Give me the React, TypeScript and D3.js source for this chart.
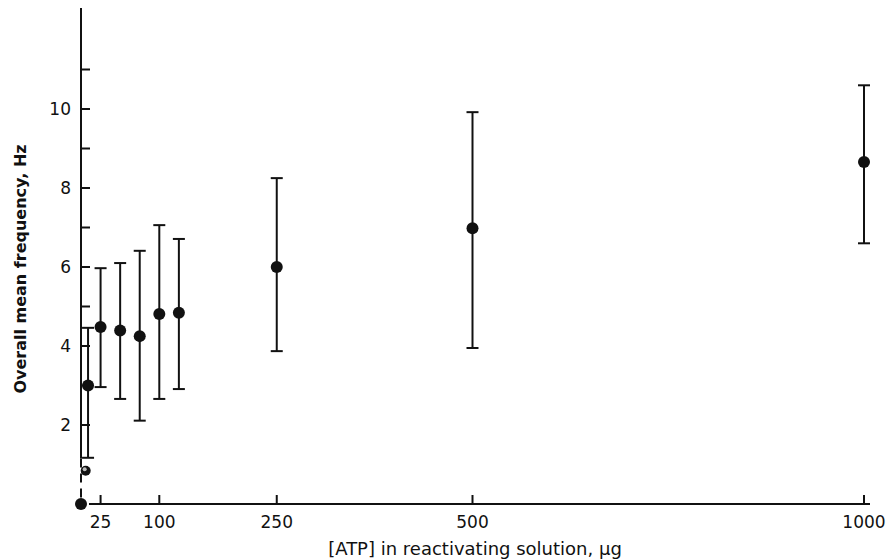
import React from 'react';
import * as d3 from 'd3';

// ATP concentration (µg) and overall mean beat frequency (Hz)
const atp = [0, 6, 9, 25, 50, 75, 100, 125, 250, 500, 1000];
const meanHz = [0, 0.84, 3.0, 4.48, 4.39, 4.25, 4.81, 4.84, 6.0, 6.98, 8.66];
const lowHz = [null, null, 1.17, 2.96, 2.66, 2.11, 2.66, 2.91, 3.87, 3.95, 6.6];
const highHz = [null, null, 4.46, 5.97, 6.1, 6.41, 7.06, 6.71, 8.25, 9.92, 10.6];

const xTicks = [25, 100, 250, 500, 1000];
const yLabelTicks = [2, 4, 6, 8, 10];
const yMinorTicks = [3, 5, 7, 9, 11];

const W = 891;
const H = 560;

export default function App() {
  const x = d3.scaleLinear().domain([0, 1000]).range([81, 864]);
  const y = d3.scaleLinear().domain([0, 10]).range([504, 109]);

  const ink = '#111';
  const font = '"DejaVu Sans", "Liberation Sans", sans-serif';
  const axisX = x(0);
  const axisY = y(0);
  const dashFrom = y(1.15);

  return (
    <svg width={W} height={H} style={{ position: 'absolute', left: 0, top: 0, background: '#fff' }}>
      {/* y axis: solid above, dashed near the origin */}
      <line x1={axisX} x2={axisX} y1={8} y2={dashFrom} stroke={ink} strokeWidth={2} />
      <line x1={axisX} x2={axisX} y1={dashFrom} y2={axisY} stroke={ink} strokeWidth={2} strokeDasharray="9,6" />
      {/* x axis */}
      <line x1={axisX + 8} x2={870} y1={axisY} y2={axisY} stroke={ink} strokeWidth={2} />

      {[...yLabelTicks, ...yMinorTicks].map(v => (
        <line key={'yt' + v} x1={axisX} x2={axisX + 9} y1={y(v)} y2={y(v)} stroke={ink} strokeWidth={2} />
      ))}
      {yLabelTicks.map(v => (
        <text key={'yl' + v} x={71} y={y(v)} dy="0.36em" textAnchor="end" fontFamily={font} fontSize={17} fill={ink}>
          {v}
        </text>
      ))}

      {xTicks.map(v => (
        <g key={'xt' + v}>
          <line x1={x(v)} x2={x(v)} y1={axisY} y2={axisY - 9} stroke={ink} strokeWidth={2} />
          <text x={x(v)} y={528} textAnchor="middle" fontFamily={font} fontSize={17} fill={ink}>
            {v}
          </text>
        </g>
      ))}

      {/* error bars */}
      {atp.map((a, i) => {
        const lo = lowHz[i];
        const hi = highHz[i];
        if (lo == null || hi == null) return null;
        const cx = x(a);
        return (
          <g key={'eb' + i} stroke={ink} strokeWidth={2}>
            <line x1={cx} x2={cx} y1={y(lo)} y2={y(hi)} />
            <line x1={cx - 6} x2={cx + 6} y1={y(lo)} y2={y(lo)} />
            <line x1={cx - 6} x2={cx + 6} y1={y(hi)} y2={y(hi)} />
          </g>
        );
      })}

      {/* means */}
      {atp.map((a, i) => (
        <circle key={'pt' + i} cx={x(a)} cy={y(meanHz[i])} r={i === 1 ? 5 : 6} fill={ink} />
      ))}
      <circle cx={x(atp[1]) - 1} cy={y(meanHz[1]) - 1.5} r={2} fill="#bbb" />

      <text
        transform={`translate(26,269) rotate(-90)`}
        textAnchor="middle"
        fontFamily={font}
        fontSize={16}
        fontWeight={700}
        fill={ink}
      >
        Overall mean frequency, Hz
      </text>
      <text x={475} y={555} textAnchor="middle" fontFamily={font} fontSize={18} fill={ink}>
        [ATP]  in reactivating solution, μg
      </text>
    </svg>
  );
}
